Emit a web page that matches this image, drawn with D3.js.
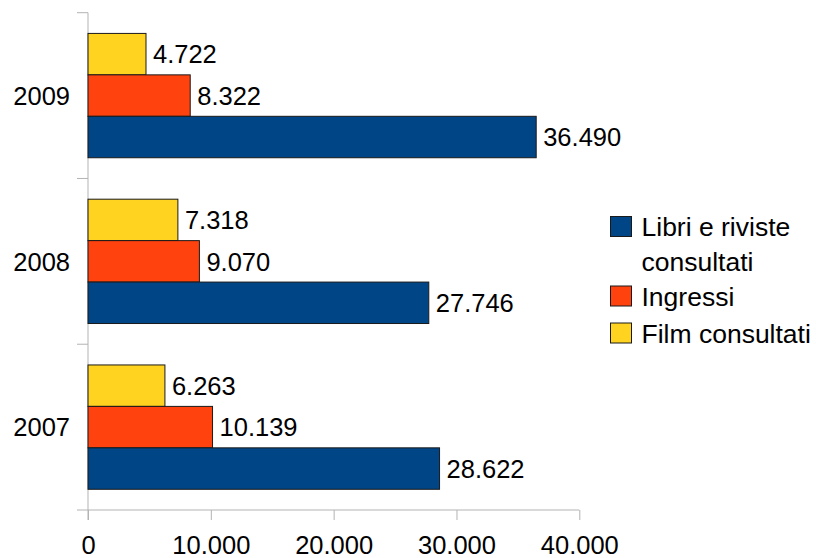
<!DOCTYPE html>
<html>
<head>
<meta charset="utf-8">
<script src="https://cdn.jsdelivr.net/npm/d3@7"></script>
<style>
  body { margin: 0; background: #fff; }
  text { font-family: "Liberation Sans", Arial, sans-serif; }
</style>
</head>
<body>
<div id="chart"></div>
<script>
var years = ["2009", "2008", "2007"];
var seriesNames = ["Film consultati", "Ingressi", "Libri e riviste consultati"];
var film = [4722, 7318, 6263];
var ingressi = [8322, 9070, 10139];
var libri = [36490, 27746, 28622];
var xTicks = [0, 10000, 20000, 30000, 40000];
var colors = ["#ffd320", "#ff420e", "#004586"];

var w = 816, h = 558;
var x0 = 88, x1 = 579.3, yTop = 12.7, yBot = 510;
var fmt = d3.format(",d");
function label(v) { return fmt(v).replace(/,/g, "."); }

var svg = d3.select("#chart").append("svg")
    .attr("width", w).attr("height", h);

var xScale = d3.scaleLinear().domain([0, 40000]).range([x0, x1]);
var yScale = d3.scaleBand().domain(years).range([yTop, yBot]);
var inner = d3.scaleBand().domain(seriesNames)
    .range([0, yScale.bandwidth()])
    .paddingOuter(0.5).paddingInner(0);

var series = [film, ingressi, libri];

// axes
var xAxis = svg.append("g").attr("transform", "translate(0," + yBot + ")")
    .call(d3.axisBottom(xScale).tickValues(xTicks).tickSize(10).tickPadding(16).tickFormat(label));
xAxis.select(".domain").remove();
xAxis.selectAll("line").attr("stroke", "#b3b3b3");
xAxis.selectAll("text").attr("font-size", 25.5).attr("fill", "#000")
    .attr("font-family", "Liberation Sans, Arial, sans-serif");
svg.append("line").attr("x1", x0 - 11).attr("x2", x1).attr("y1", yBot).attr("y2", yBot)
    .attr("stroke", "#b3b3b3");

// y axis with ticks at band boundaries
svg.append("line").attr("x1", x0).attr("x2", x0).attr("y1", yTop).attr("y2", yBot + 10)
    .attr("stroke", "#b3b3b3");
svg.selectAll(".ytick").data(years).enter().append("line")
    .attr("x1", x0 - 11).attr("x2", x0)
    .attr("y1", function(d) { return yScale(d); })
    .attr("y2", function(d) { return yScale(d); })
    .attr("stroke", "#b3b3b3");
svg.selectAll(".ylab").data(years).enter().append("text")
    .attr("x", x0 - 18)
    .attr("y", function(d) { return yScale(d) + yScale.bandwidth() / 2; })
    .attr("dy", "0.36em")
    .attr("text-anchor", "end")
    .attr("font-size", 25.5)
    .text(function(d) { return d; });

// bars
series.forEach(function(vals, s) {
    var g = svg.append("g");
    g.selectAll("rect").data(vals).enter().append("rect")
        .attr("x", xScale(0))
        .attr("y", function(d, i) { return yScale(years[i]) + inner(seriesNames[s]); })
        .attr("width", function(d) { return xScale(d) - xScale(0); })
        .attr("height", inner.bandwidth())
        .attr("fill", colors[s])
        .attr("stroke", "#1a1a1a")
        .attr("stroke-width", 1);
    g.selectAll("text").data(vals).enter().append("text")
        .attr("x", function(d) { return xScale(d) + 7; })
        .attr("y", function(d, i) { return yScale(years[i]) + inner(seriesNames[s]) + inner.bandwidth() / 2; })
        .attr("dy", "0.36em")
        .attr("font-size", 25.5)
        .text(label);
});

// legend
var legend = [
    { name: ["Libri e riviste", "consultati"], color: colors[2], y: 226.5 },
    { name: ["Ingressi"], color: colors[1], y: 296 },
    { name: ["Film consultati"], color: colors[0], y: 333 }
];
var lg = svg.selectAll(".leg").data(legend).enter().append("g");
lg.append("rect")
    .attr("x", 610.5).attr("y", function(d) { return d.y - 10; })
    .attr("width", 21).attr("height", 20)
    .attr("fill", function(d) { return d.color; })
    .attr("stroke", "#1a1a1a");
lg.each(function(d) {
    d3.select(this).selectAll("text").data(d.name).enter().append("text")
        .attr("x", 641.5)
        .attr("y", function(t, i) { return d.y + i * 35; })
        .attr("dy", "0.36em")
        .attr("font-size", 26.5)
        .text(function(t) { return t; });
});
</script>
</body>
</html>
